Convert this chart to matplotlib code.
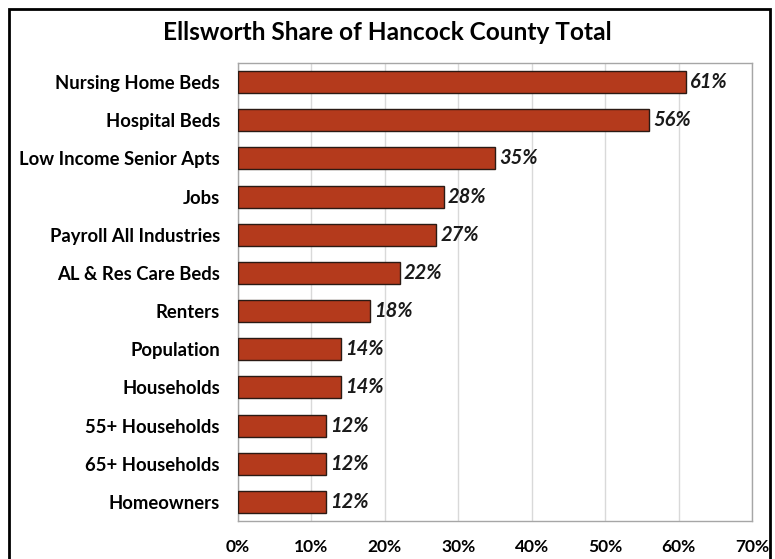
import matplotlib
matplotlib.use("Agg")
import matplotlib.pyplot as plt
from matplotlib.patches import Rectangle
from matplotlib.ticker import FuncFormatter, MultipleLocator

categories = ["Nursing Home Beds", "Hospital Beds", "Low Income Senior Apts", "Jobs",
              "Payroll All Industries", "AL & Res Care Beds", "Renters", "Population",
              "Households", "55+ Households", "65+ Households", "Homeowners"]
values = [61, 56, 35, 28, 27, 22, 18, 14, 14, 12, 12, 12]
title = "Ellsworth Share of Hancock County Total"

plt.rcParams['font.family'] = ['Lato', 'DejaVu Sans']

fig = plt.figure(figsize=(7.75, 5.59), dpi=100)
ax = fig.add_axes([238/775, 1-521/559, (752-238)/775, (521-63)/559])

n = len(categories)
ypos = list(range(n))[::-1]
ax.barh(ypos, values, height=0.58, color="#B43A1C", edgecolor="#2b1a14", linewidth=1.0, zorder=3)
for y, v in zip(ypos, values):
    ax.text(v + 0.6, y, f"{v}%", va="center", ha="left", fontsize=14.5,
            fontweight="bold", fontstyle="italic", color="#1a1a1a")

ax.set_xlim(0, 70)
ax.set_ylim(-0.5, n - 0.5)
ax.set_yticks(ypos)
ax.set_yticklabels(categories, fontsize=13.3, fontweight="bold")
ax.xaxis.set_major_locator(MultipleLocator(10))
ax.xaxis.set_major_formatter(FuncFormatter(lambda x, p: f"{int(x)}%"))
for lab in ax.get_xticklabels():
    lab.set_fontweight("bold")
    lab.set_fontsize(12.5)
ax.tick_params(axis="both", length=0)
ax.tick_params(axis="x", pad=13)
ax.tick_params(axis="y", pad=13)
ax.grid(axis="x", color="#D9D9D9", linewidth=1, zorder=0)
for s in ax.spines.values():
    s.set_color("#A6A6A6")
    s.set_linewidth(1)

fig.text(0.5, 1 - 33/559, title, ha="center", va="center", fontsize=17.6, fontweight="bold")

fig.patches.append(Rectangle((9/775, -0.05), (770-9)/775, 1.05 - 9/559, transform=fig.transFigure,
                             fill=False, edgecolor="black", linewidth=2, zorder=10))

fig.savefig("out.png", dpi=100)
